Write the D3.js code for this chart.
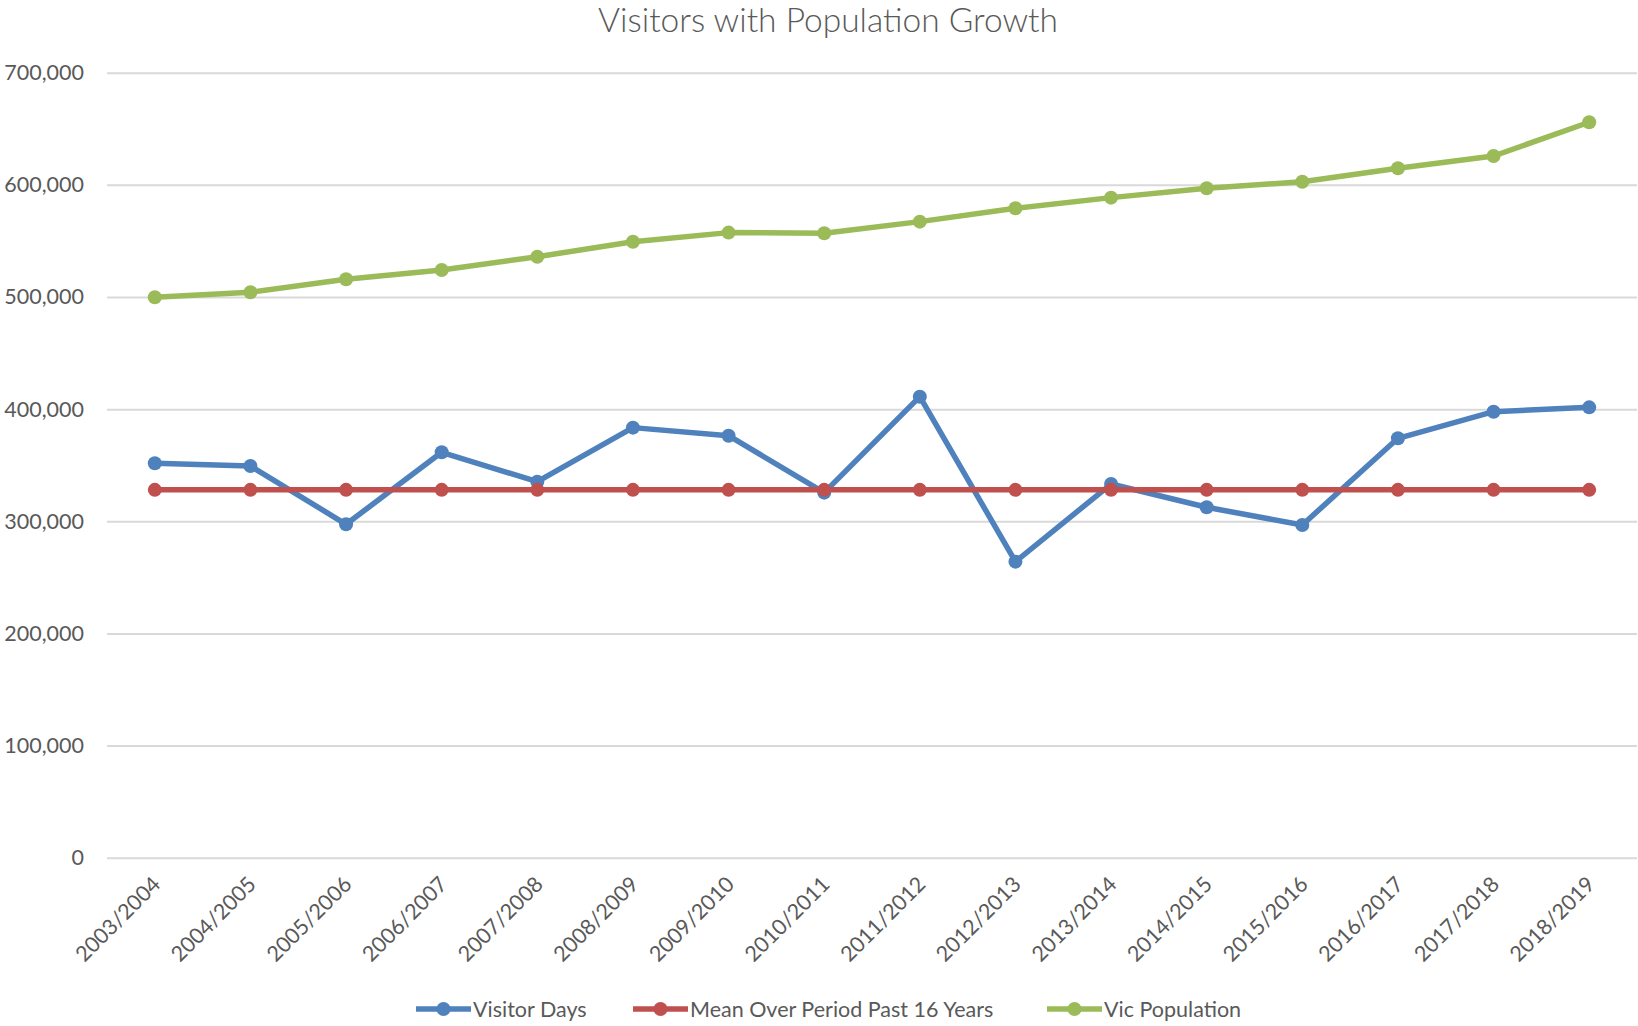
<!DOCTYPE html>
<html>
<head>
<meta charset="utf-8">
<script src="https://cdn.jsdelivr.net/npm/d3@7"></script>
<style>
  html, body { margin: 0; padding: 0; background: #ffffff; }
  svg { display: block; font-family: Lato, "Open Sans", sans-serif; }
</style>
</head>
<body>
<svg id="chart" width="1638" height="1026"></svg>
<script>
// Financial years along the x axis
const years = [
  "2003/2004", "2004/2005", "2005/2006", "2006/2007", "2007/2008", "2008/2009",
  "2009/2010", "2010/2011", "2011/2012", "2012/2013", "2013/2014", "2014/2015",
  "2015/2016", "2016/2017", "2017/2018", "2018/2019"
];

// Series values
const visitorDays = [
  351700, 349300, 297300, 361500, 335300, 383500, 376300, 325500,
  411100, 264000, 333200, 312500, 296700, 374000, 397700, 401600
];
const meanPast16 = [
  328000, 328000, 328000, 328000, 328000, 328000, 328000, 328000,
  328000, 328000, 328000, 328000, 328000, 328000, 328000, 328000
];
const vicPopulation = [
  499700, 504200, 515800, 524100, 535900, 549300, 557400, 556800,
  567200, 579100, 588600, 596900, 602800, 614800, 625700, 655800
];

// Y-axis ticks
const yTicks = [0, 100000, 200000, 300000, 400000, 500000, 600000, 700000];

const seriesNames = ["Visitor Days", "Mean Over Period Past 16 Years", "Vic Population"];
const seriesColors = ["#4f81bd", "#c0504d", "#9bbb59"];
const seriesValues = [visitorDays, meanPast16, vicPopulation];

const svg = d3.select("#chart");
const textColor = "#595959";
const labelSize = 21.5;

const plot = { left: 107, right: 1637, top: 72.7, bottom: 857.7 };

const x = d3.scaleBand()
  .domain(years)
  .range([plot.left, plot.right]);
const xc = d => x(d) + x.bandwidth() / 2;

const y = d3.scaleLinear()
  .domain([0, 700000])
  .range([plot.bottom, plot.top]);

// Title
svg.append("text")
  .attr("x", 828)
  .attr("y", 32)
  .attr("text-anchor", "middle")
  .attr("font-size", 33.5)
  .attr("font-weight", 300)
  .attr("fill", textColor)
  .text("Visitors with Population Growth");

// Horizontal gridlines and y labels
const yAxis = d3.axisLeft(y)
  .tickValues(yTicks)
  .tickFormat(d3.format(","))
  .tickSize(-(plot.right - plot.left))
  .tickPadding(23);

const gy = svg.append("g")
  .attr("transform", `translate(${plot.left},0)`)
  .call(yAxis);
gy.select(".domain").remove();
gy.selectAll(".tick line")
  .attr("stroke", "#d9d9d9")
  .attr("stroke-width", 2);
gy.selectAll(".tick text")
  .attr("font-size", labelSize)
  .attr("fill", textColor)
  .attr("font-family", "Lato, sans-serif");

// Rotated category labels
const xAxis = d3.axisBottom(x).tickSize(0).tickPadding(0);
const gx = svg.append("g")
  .attr("transform", `translate(0,${plot.bottom})`)
  .call(xAxis);
gx.select(".domain").remove();
gx.selectAll(".tick text")
  .attr("font-size", labelSize)
  .attr("fill", textColor)
  .attr("font-family", "Lato, sans-serif")
  .attr("text-anchor", "end")
  .attr("dy", 0)
  .attr("transform", "translate(7,28) rotate(-45)");

// Lines and markers
const line = d3.line()
  .x((d, i) => xc(years[i]))
  .y(d => y(d));

seriesValues.forEach((vals, si) => {
  const g = svg.append("g");
  g.append("path")
    .datum(vals)
    .attr("fill", "none")
    .attr("stroke", seriesColors[si])
    .attr("stroke-width", 5.5)
    .attr("stroke-linejoin", "round")
    .attr("d", line);
  g.selectAll("circle")
    .data(vals)
    .join("circle")
    .attr("cx", (d, i) => xc(years[i]))
    .attr("cy", d => y(d))
    .attr("r", 7)
    .attr("fill", seriesColors[si]);
});

// Legend
const legendY = 1009;
const legendStarts = [416, 633, 1047];
const legend = svg.append("g");
seriesNames.forEach((name, i) => {
  const x0 = legendStarts[i];
  const item = legend.append("g");
  item.append("line")
    .attr("x1", x0).attr("x2", x0 + 55)
    .attr("y1", legendY).attr("y2", legendY)
    .attr("stroke", seriesColors[i])
    .attr("stroke-width", 5.5);
  item.append("circle")
    .attr("cx", x0 + 27.5).attr("cy", legendY)
    .attr("r", 7)
    .attr("fill", seriesColors[i]);
  item.append("text")
    .attr("x", x0 + 57)
    .attr("y", legendY + 7.5)
    .attr("font-size", labelSize)
    .attr("fill", textColor)
    .text(name);
});
</script>
</body>
</html>
